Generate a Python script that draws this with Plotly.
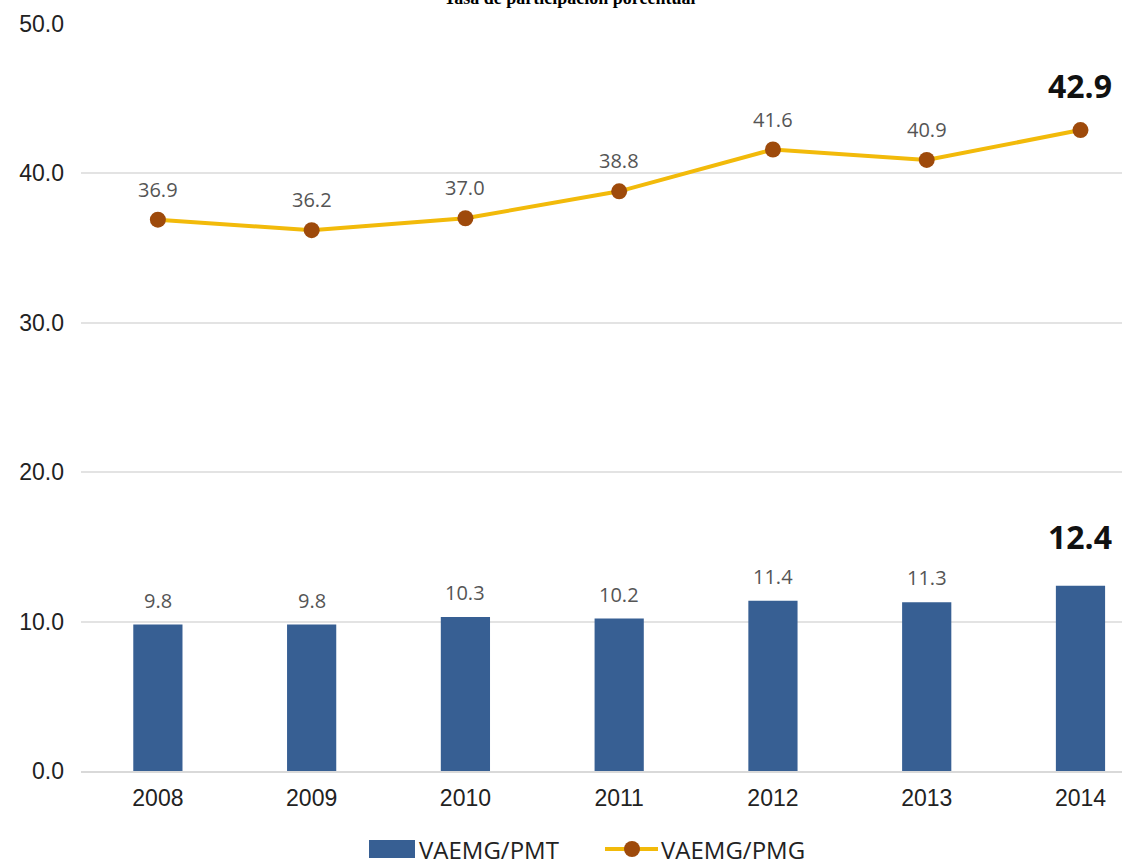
import plotly.graph_objects as go

years = ["2008", "2009", "2010", "2011", "2012", "2013", "2014"]
vaemg_pmt = [9.8, 9.8, 10.3, 10.2, 11.4, 11.3, 12.4]
vaemg_pmg = [36.9, 36.2, 37.0, 38.8, 41.6, 40.9, 42.9]
y_ticks = [0, 10, 20, 30, 40, 50]
series_names = ["VAEMG/PMT", "VAEMG/PMG"]
title_text = "Tasa de participación porcentual"

BAR_COLOR = "#375F93"
LINE_COLOR = "#F2BA0A"
MARKER_COLOR = "#9E4A0B"
LABEL_FONT = "Open Sans, Noto Sans, sans-serif"
AXIS_FONT = "Liberation Sans, Arial, sans-serif"

W, H = 1122, 863
ML, MR, MT, MB = 81, 0, 24, 92
PW, PH = W - ML - MR, H - MT - MB


def px(x):
    return (x - ML) / PW


def py(y):
    return (H - MB - y) / PH


fig = go.Figure()
fig.add_trace(go.Bar(
    x=years, y=vaemg_pmt, name=series_names[0],
    marker=dict(color=BAR_COLOR, line=dict(width=0)),
    width=0.32, showlegend=False,
))
fig.add_trace(go.Scatter(
    x=years, y=vaemg_pmg, name=series_names[1],
    mode="lines+markers",
    line=dict(color=LINE_COLOR, width=4),
    marker=dict(color=MARKER_COLOR, size=16),
    showlegend=False,
))

annotations = []
n = len(years)
for i, v in enumerate(vaemg_pmt):
    last = i == n - 1
    annotations.append(dict(
        x=i, y=v, xref="x", yref="y", yanchor="bottom", showarrow=False,
        text=f"<b>{v:.1f}</b>" if last else f"{v:.1f}",
        yshift=26 if last else 9,
        font=dict(family=LABEL_FONT, size=32 if last else 20,
                  color="#111111" if last else "#555555"),
    ))
for i, v in enumerate(vaemg_pmg):
    last = i == n - 1
    annotations.append(dict(
        x=i, y=v, xref="x", yref="y", yanchor="bottom", showarrow=False,
        text=f"<b>{v:.1f}</b>" if last else f"{v:.1f}",
        yshift=21 if last else 15,
        font=dict(family=LABEL_FONT, size=32 if last else 20,
                  color="#111111" if last else "#555555"),
    ))
# title (cut off at the top edge, as in the reference)
annotations.append(dict(
    x=px(570), y=1.0, xref="paper", yref="paper", xanchor="center", yanchor="bottom",
    yshift=14, showarrow=False, text=f"<b>{title_text}</b>",
    font=dict(family="Liberation Serif, Times New Roman, serif", size=18, color="#000000"),
))
# custom legend texts
annotations.append(dict(
    x=px(417), y=py(849), xref="paper", yref="paper", xanchor="left", yanchor="middle",
    showarrow=False, text=series_names[0],
    font=dict(family=LABEL_FONT, size=24, color="#222222"),
))
annotations.append(dict(
    x=px(659), y=py(849), xref="paper", yref="paper", xanchor="left", yanchor="middle",
    showarrow=False, text=series_names[1],
    font=dict(family=LABEL_FONT, size=24, color="#222222"),
))

shapes = [
    dict(type="rect", xref="paper", yref="paper", x0=px(369), x1=px(415),
         y0=py(858), y1=py(840), fillcolor=BAR_COLOR, line=dict(width=0), layer="above"),
    dict(type="line", xref="paper", yref="paper", x0=px(605), x1=px(658),
         y0=py(849), y1=py(849), line=dict(color=LINE_COLOR, width=4), layer="above"),
    dict(type="circle", xref="paper", yref="paper", x0=px(624), x1=px(640),
         y0=py(857), y1=py(841), fillcolor=MARKER_COLOR, line=dict(width=0), layer="above"),
]

fig.update_layout(
    width=W, height=H,
    paper_bgcolor="white", plot_bgcolor="white",
    margin=dict(l=ML, r=MR, t=MT, b=MB, autoexpand=False),
    showlegend=False,
    annotations=annotations,
    shapes=shapes,
)
fig.update_xaxes(
    type="category", range=[-0.5, 6.27],
    showgrid=False, showline=True, linecolor="#D9D9D9", linewidth=1.5,
    ticks="", ticklabelstandoff=6,
    tickfont=dict(family=AXIS_FONT, size=23, color="#222222"),
)
fig.update_yaxes(
    range=[0, 50], tickvals=y_ticks, ticktext=[f"{t:.1f}" for t in y_ticks],
    showgrid=True, gridcolor="#E3E3E3", gridwidth=1.5, zeroline=False,
    ticks="", ticklabelstandoff=16,
    tickfont=dict(family=AXIS_FONT, size=23, color="#222222"),
)

fig.write_html(
    "out.html",
    config={"displayModeBar": False},
    post_script="document.body.style.margin='0';document.body.style.overflow='hidden';",
)
